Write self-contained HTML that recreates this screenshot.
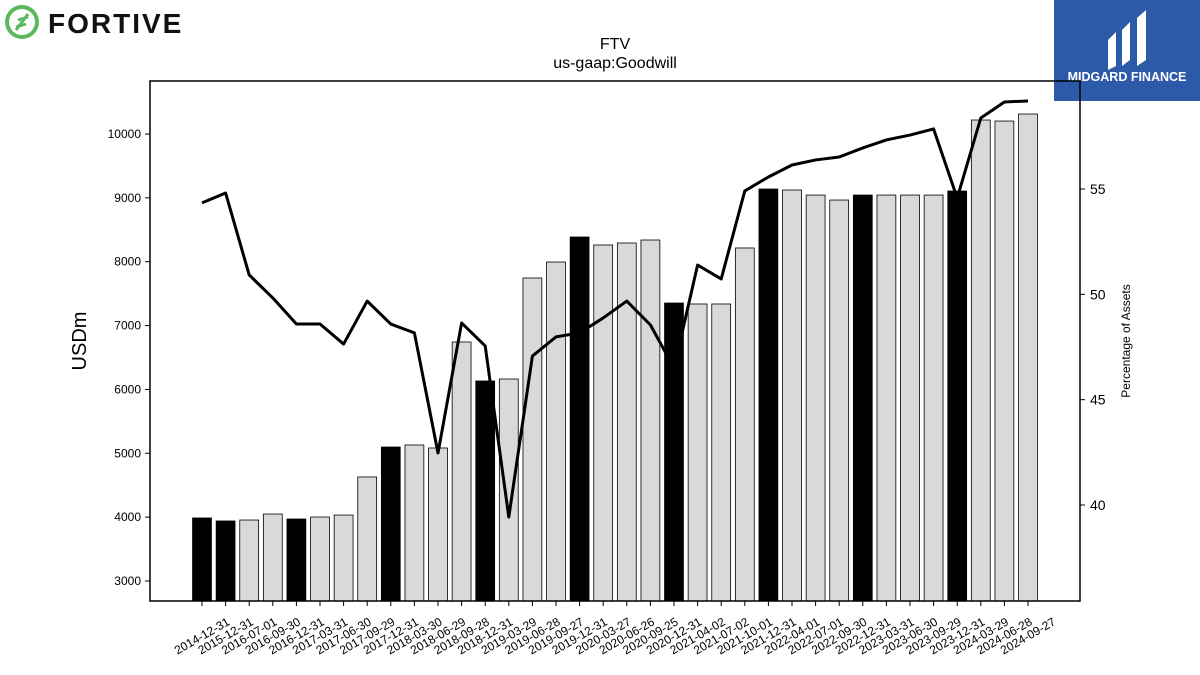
<!DOCTYPE html>
<html><head><meta charset="utf-8"><style>
body{margin:0;background:#fff;font-family:"Liberation Sans","DejaVu Sans",sans-serif;}
#wrap{position:relative;width:1200px;height:675px;overflow:hidden;}
</style></head><body>
<div id="wrap">
<svg id="chart" width="1200" height="675" xmlns="http://www.w3.org/2000/svg">
  <g>
    <circle cx="22" cy="22" r="15" fill="none" stroke="#5cb85c" stroke-width="4"/>
    <path d="M16 30 L28 14 M18 20 L28 17 M16 27 L26 24" stroke="#5cb85c" stroke-width="3" fill="none"/>
    <text x="48" y="33" font-size="28" font-weight="bold" fill="#111" letter-spacing="2">FORTIVE</text>
  </g>
  <g>
    <rect x="1054" y="0" width="146" height="101" fill="#2c5aa8"/>
    <path d="M1108 70 L1108 40 L1116 32 L1116 66 Z M1122 66 L1122 30 L1130 22 L1130 60 Z M1137 66 L1137 18 L1146 10 L1146 60 Z" fill="#fff"/>
    <text x="1127" y="81" font-size="12.5" font-weight="bold" fill="#fff" text-anchor="middle">MIDGARD FINANCE</text>
  </g>
  <text x="615" y="49" font-size="16" text-anchor="middle">FTV</text>
  <text x="615" y="68" font-size="16" text-anchor="middle">us-gaap:Goodwill</text>
  <text transform="translate(86,341) rotate(-90)" font-size="20" text-anchor="middle">USDm</text>
  <text transform="translate(1130,341) rotate(-90)" font-size="12" text-anchor="middle">Percentage of Assets</text>
  <g id="bars"></g><g id="line"></g><g id="axes"></g>
  <rect x="150" y="81" width="930" height="520" fill="none" stroke="#000" stroke-width="1.5"/>
</svg>
</div>
<script>
const categories=["2014-12-31","2015-12-31","2016-07-01","2016-09-30","2016-12-31","2017-03-31","2017-06-30","2017-09-29","2017-12-31","2018-03-30","2018-06-29","2018-09-28","2018-12-31","2019-03-29","2019-06-28","2019-09-27","2019-12-31","2020-03-27","2020-06-26","2020-09-25","2020-12-31","2021-04-02","2021-07-02","2021-10-01","2021-12-31","2022-04-01","2022-07-01","2022-09-30","2022-12-31","2023-03-31","2023-06-30","2023-09-29","2023-12-31","2024-03-29","2024-06-28","2024-09-27"];
const goodwill=[3987,3940,3955,4049,3971,4002,4033,4629,5098,5130,5083,6743,6132,6163,7745,7995,8387,8262,8293,8340,7353,7338,7338,8215,9138,9123,9044,8966,9044,9044,9044,9044,9107,10219,10203,10313];
const pctAssets=[54.34,54.81,50.92,49.83,48.59,48.59,47.64,49.68,48.59,48.17,42.47,48.64,47.55,39.43,47.07,47.98,48.17,48.88,49.68,48.55,46.50,51.39,50.73,54.91,55.57,56.14,56.38,56.52,56.95,57.33,57.56,57.85,54.57,58.37,59.13,59.18];
const leftTicks=[3000,4000,5000,6000,7000,8000,9000,10000];
const rightTicks=[40,45,50,55];
const NS="http://www.w3.org/2000/svg";
const X0=150,X1=1080,Y0=81,Y1=601;
const n=categories.length, step=(1028-202)/35, firstX=202;
function xPos(i){return firstX+i*step;}
function yL(v){return 581-(v-3000)*(447/7000);}
function yR(v){return 505-(v-40)*(316/15);}
function mk(tag,attrs,parent){const e=document.createElementNS(NS,tag);for(const k in attrs)e.setAttribute(k,attrs[k]);parent.appendChild(e);return e;}
const bars=document.getElementById('bars'),line=document.getElementById('line'),axes=document.getElementById('axes');
const bw=step*0.8;
categories.forEach((c,i)=>{
  const yearEnd=c.endsWith('12-31');
  const y=yL(goodwill[i]);
  const r=mk('rect',{x:xPos(i)-bw/2,y:y,width:bw,height:Y1-y,fill:yearEnd?'#000':'#d9d9d9',stroke:'#000','stroke-width':0.8},bars);
  
  
  mk('line',{x1:xPos(i),x2:xPos(i),y1:Y1,y2:Y1+5,stroke:'#000'},axes);
  const t=mk('text',{transform:`translate(${xPos(i)},${Y1+35}) rotate(-30)`,'font-size':12,'text-anchor':'middle',y:4},axes);
  t.textContent=c;
  
  
});
const pts=pctAssets.map((v,i)=>xPos(i)+','+yR(v)).join(' ');
const pl=mk('polyline',{points:pts,fill:'none',stroke:'#000','stroke-width':3,'stroke-linejoin':'round'},line);


leftTicks.forEach(v=>{
  const y=yL(v);
  mk('line',{x1:X0-5,x2:X0,y1:y,y2:y,stroke:'#000'},axes);
  const t=mk('text',{x:X0-9,y:y+4,'font-size':12,'text-anchor':'end'},axes);
  t.textContent=v;
  
  
});
rightTicks.forEach(v=>{
  const y=yR(v);
  mk('line',{x1:X1,x2:X1+5,y1:y,y2:y,stroke:'#000'},axes);
  const t=mk('text',{x:X1+10,y:y+5,'font-size':14},axes);
  t.textContent=v;
  
  
});
</script>
</body></html>
